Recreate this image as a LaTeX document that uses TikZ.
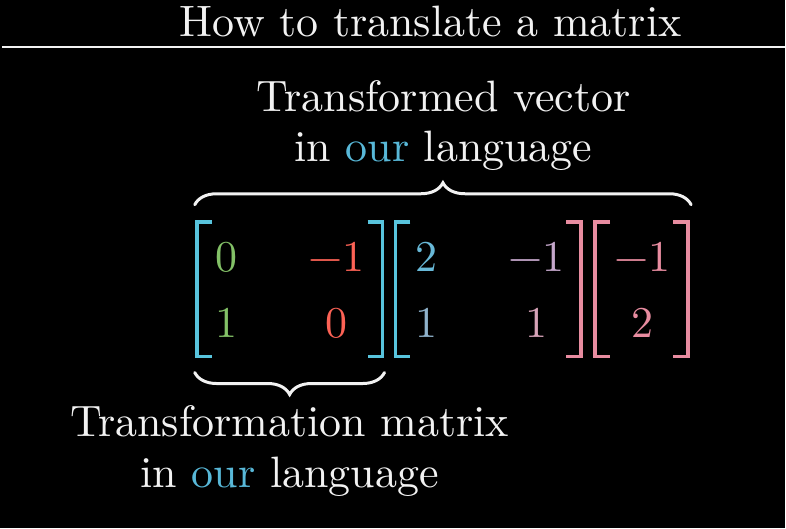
\documentclass[tikz,border=0pt]{standalone}
\usepackage{tikz}
\usetikzlibrary{decorations.pathreplacing}
\font\lmtenbig="[lmroman10-regular.otf]" at 44pt
\definecolor{chalk}{HTML}{F2F2F2}
\definecolor{ourblue}{HTML}{58B8D8}
\definecolor{ihatgreen}{HTML}{83C167}
\definecolor{jhatred}{HTML}{FC6255}
\definecolor{bracketblue}{HTML}{58C4DD}
\definecolor{bracketpink}{HTML}{E88CA0}
\definecolor{colonetop}{HTML}{68B9D8}
\definecolor{colonebot}{HTML}{8FB2CB}
\definecolor{coltwotop}{HTML}{C5A7CB}
\definecolor{coltwobot}{HTML}{D6A3B8}
\tikzset{
  bigfont/.style={font=\lmtenbig},
  chalktext/.style={bigfont,text=chalk,anchor=base,inner sep=0pt},
  entry/.style={bigfont,anchor=base,inner sep=0pt},
  bracketline/.style={line width=3.6pt,line cap=butt,line join=miter},
  bracestroke/.style={draw=chalk,line width=3pt,line cap=round,decorate,
    decoration={brace,amplitude=22pt,aspect=0.5}}
}
\begin{document}
\begin{tikzpicture}[x=1pt,y=-1pt]
  \fill[black] (0,0) rectangle (786,529);
  % title bar
  \node[chalktext] (title) at (431,37) {How to translate a matrix};
  \draw[chalk,line width=2pt] (2,47)--(786,47);
  % labels
  \node[chalktext] (vectop) at (444,112) {Transformed vector};
  \node[chalktext] (vecbot) at (444,162) {in {\color{ourblue}our} language};
  \node[chalktext] (mattop) at (290,437) {Transformation matrix};
  \node[chalktext] (matbot) at (290,488) {in {\color{ourblue}our} language};
  % transformation matrix
  \draw[bracketline,bracketblue] (212,222)--(197,222)--(197,357)--(212,357);
  \draw[bracketline,bracketblue] (368,222)--(383,222)--(383,357)--(368,357);
  \node[entry,text=ihatgreen] (aa) at (227,272) {0};
  \node[entry,text=ihatgreen] (ba) at (227,338) {1};
  \node[entry,text=jhatred] (ab) at (337,272) {\char"2212 1};
  \node[entry,text=jhatred] (bb) at (337,338) {0};
  % basis matrix
  \draw[bracketline,bracketblue] (411,222)--(396,222)--(396,357)--(411,357);
  \draw[bracketline,bracketpink] (567,222)--(582,222)--(582,357)--(567,357);
  \node[entry,text=colonetop] (ca) at (427,272) {2};
  \node[entry,text=colonebot] (da) at (427,338) {1};
  \node[entry,text=coltwotop] (cb) at (537,272) {\char"2212 1};
  \node[entry,text=coltwobot] (db) at (537,338) {1};
  % vector
  \draw[bracketline,bracketpink] (611,222)--(596,222)--(596,357)--(611,357);
  \draw[bracketline,bracketpink] (674,222)--(689,222)--(689,357)--(674,357);
  \node[entry,text=bracketpink] (va) at (643,272) {\char"2212 1};
  \node[entry,text=bracketpink] (vb) at (643,338) {2};
  % braces
  \coordinate (topl) at (195,205);
  \coordinate (topr) at (692,205);
  \coordinate (botl) at (195,373);
  \coordinate (botr) at (385,373);
  \draw[bracestroke] (topl)--(topr);
  \draw[bracestroke,decoration={mirror}] (botl)--(botr);
\end{tikzpicture}
\end{document}
